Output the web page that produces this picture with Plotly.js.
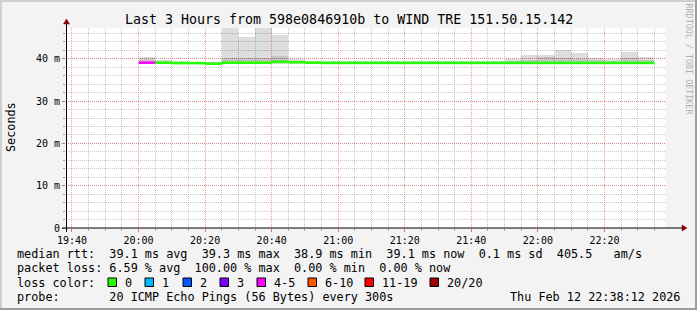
<!DOCTYPE html>
<html><head><meta charset="utf-8">
<script src="https://cdn.plot.ly/plotly-3.0.1.min.js"></script>
<style>html,body{margin:0;padding:0;background:#f3f3f3;} #chart{width:697px;height:310px;}</style>
</head><body><div id="chart"></div>
<script>
// ---- data ----
const intervalStart = ['2026-02-12 20:00:00','2026-02-12 20:05:00','2026-02-12 20:10:00','2026-02-12 20:15:00','2026-02-12 20:20:00','2026-02-12 20:25:00','2026-02-12 20:30:00','2026-02-12 20:35:00','2026-02-12 20:40:00','2026-02-12 20:45:00','2026-02-12 20:50:00','2026-02-12 20:55:00','2026-02-12 21:00:00','2026-02-12 21:05:00','2026-02-12 21:10:00','2026-02-12 21:15:00','2026-02-12 21:20:00','2026-02-12 21:25:00','2026-02-12 21:30:00','2026-02-12 21:35:00','2026-02-12 21:40:00','2026-02-12 21:45:00','2026-02-12 21:50:00','2026-02-12 21:55:00','2026-02-12 22:00:00','2026-02-12 22:05:00','2026-02-12 22:10:00','2026-02-12 22:15:00','2026-02-12 22:20:00','2026-02-12 22:25:00','2026-02-12 22:30:00'];
const medianMs = [39.1,39.1,39.0,39.0,38.85,39.1,39.1,39.1,39.3,39.2,39.1,39.05,39.05,39.05,39.05,39.05,39.05,39.05,39.05,39.05,39.05,39.05,39.05,39.05,39.05,39.05,39.05,39.05,39.05,39.05,39.05];
const smokeMin = [38.8,38.8,38.8,38.8,38.6,38.8,38.8,38.8,38.9,38.8,38.8,38.8,38.8,38.8,38.8,38.8,38.8,38.8,38.8,38.8,38.8,38.8,38.8,38.8,38.8,38.8,38.8,38.8,38.8,38.8,38.8];
const smokeMax = [40.4,39.7,39.4,39.3,39.3,48.0,45.1,48.0,45.7,40.0,39.5,39.4,39.4,39.4,39.4,39.4,39.4,39.4,39.4,39.4,39.4,39.5,40.0,41.0,41.0,42.0,41.5,40.3,40.0,41.6,40.4];
const coreMin = [39.0,39.0,38.9,38.9,38.8,39.0,39.0,39.0,39.1,39.0,39.0,38.9,38.9,38.9,38.9,38.9,38.9,38.9,38.9,38.9,38.9,38.9,38.9,38.9,38.9,38.9,38.9,38.9,38.9,38.9,38.9];
const coreMax = [39.9,39.4,39.3,39.2,39.2,40.3,40.2,40.3,40.6,39.6,39.3,39.3,39.3,39.3,39.3,39.3,39.3,39.3,39.3,39.3,39.3,39.3,39.5,39.7,40.5,40.2,40.0,39.8,39.6,40.2,39.8];
const lossPings = [5,0,0,0,0,0,0,0,0,0,0,0,0,0,0,0,0,0,0,0,0,0,0,0,0,0,0,0,0,0,0];
const yTickVals = [0,10,20,30,40];
const yTickText = ['0','10 m','20 m','30 m','40 m'];
const lossLabels = ['0','1','2','3','4-5','6-10','11-19','20/20'];
const lossColors = ['#26ff00','#00b8ff','#0059ff','#7e00ff','#ff00ff','#ff5500','#ff0000','#a10000'];
const lossUpper = [0,1,2,3,5,10,19,20];
const legendRtt = 'median rtt:  39.1 ms avg  39.3 ms max  38.9 ms min  39.1 ms now  0.1 ms sd  405.5   am/s';
const legendLoss = 'packet loss: 6.59 % avg  100.00 % max  0.00 % min  0.00 % now';
const legendProbe = 'probe:       20 ICMP Echo Pings (56 Bytes) every 300s';
const stamp = 'Thu Feb 12 22:38:12 2026';
const titleText = 'Last 3 Hours from 598e0846910b to WIND TRE 151.50.15.142';

// ---- geometry helpers ----
const W = 697, H = 310, L = 66, R = 665, T = 28, B = 228;
const px = x => (x - L) / (R - L);
const py = y => (B - y) / (B - T);
const nb = s => s.replace(/ /g, '\u00a0');
const MONO = 'DejaVu Sans Mono, monospace';
const toMs = s => Date.parse(s.replace(' ', 'T') + 'Z');
const STEP = 300000;

const traces = [];
// outer smoke
traces.push({type:'bar', x:intervalStart, base:smokeMin, y:smokeMax.map((v,i)=>v-smokeMin[i]),
  width:STEP, offset:0, marker:{color:'rgba(0,0,0,0.135)', line:{width:0}}, hoverinfo:'skip', showlegend:false});
// inner smoke
traces.push({type:'bar', x:intervalStart, base:coreMin, y:coreMax.map((v,i)=>v-coreMin[i]),
  width:STEP, offset:0, marker:{color:'rgba(0,0,0,0.10)', line:{width:0}}, hoverinfo:'skip', showlegend:false});
// median line, coloured by loss
function lossIdx(n){ for(let k=0;k<lossUpper.length;k++){ if(n<=lossUpper[k]) return k; } return lossUpper.length-1; }
lossColors.forEach((col,k)=>{
  const xs=[], ys=[];
  intervalStart.forEach((s,i)=>{
    if(lossIdx(lossPings[i])===k){ const t=toMs(s); xs.push(t,t+STEP,null); ys.push(medianMs[i],medianMs[i],null); }
  });
  if(xs.length) traces.push({type:'scatter', mode:'lines', x:xs, y:ys, line:{color:col,width:2.6}, connectgaps:false, hoverinfo:'skip', showlegend:false});
});

const shapes = [];
const rectPx = (x0,y0,x1,y1,fill,lineCol,lw) => ({type:'rect', xref:'paper', yref:'paper', x0:px(x0), x1:px(x1), y0:py(y1), y1:py(y0), fillcolor:fill, line:{color:lineCol||fill, width:lw||0}, layer:'above'});
const linePx = (x0,y0,x1,y1,col,w) => ({type:'line', xref:'paper', yref:'paper', x0:px(x0), x1:px(x1), y0:py(y0), y1:py(y1), line:{color:col,width:w}, layer:'above'});
// frame
shapes.push(rectPx(0,0,W,2,'#cfcfcf'));
shapes.push(rectPx(0,0,2,H,'#cfcfcf'));
shapes.push(rectPx(W-2,0,W,H,'#9e9e9e'));
shapes.push(rectPx(0,H-2,W,H,'#9e9e9e'));
// axes with arrows
shapes.push(linePx(62,228,683,228,'#000000',1));
shapes.push(linePx(66.5,232,66.5,23,'#000000',1));
const tri = pts => ({type:'path', xref:'paper', yref:'paper', path:'M'+pts.map(p=>px(p[0])+','+py(p[1])).join(' L')+' Z', fillcolor:'#8b0000', line:{color:'#8b0000',width:0.5}, layer:'above'});
shapes.push(tri([[687,228],[682,225],[682,231]]));
shapes.push(tri([[66.5,19],[63.5,24],[69.5,24]]));
// loss colour boxes
const boxX = [108,145,183,220,257,308,365,430];
const annotations = [];
lossColors.forEach((c,k)=>{
  shapes.push(rectPx(boxX[k],278,boxX[k]+8.5,286.5,c,'#000000',1));
  annotations.push({text:nb(lossLabels[k]), x:px(boxX[k]+14.5), y:py(282.5), xref:'paper', yref:'paper', showarrow:false, xanchor:'left', yanchor:'middle', font:{family:MONO,size:11.8,color:'#000'}});
});
const txt = (t,x,y,size,opts) => Object.assign({text:nb(t), x:px(x), y:py(y), xref:'paper', yref:'paper', showarrow:false, xanchor:'left', yanchor:'middle', font:{family:MONO,size:size,color:'#000'}}, opts||{});
annotations.push(txt(titleText,349,19,13.3,{xanchor:'center'}));
annotations.push(txt(legendRtt,14.5,254,11.8));
annotations.push(txt(legendLoss,14.5,268,11.8));
annotations.push(txt('loss color:',14.5,282.5,11.8));
annotations.push(txt(legendProbe,14.5,297,11.8));
annotations.push(txt(stamp,682,297,11.8,{xanchor:'right'}));
annotations.push(txt('Seconds',11,127,11.8,{xanchor:'center',textangle:-90}));
annotations.push(txt('RRDTOOL / TOBI OETIKER',688.5,59,8.4,{xanchor:'center',textangle:90,font:{family:MONO,size:8.4,color:'#b0b0b0'}}));

const layout = {
  width:W, height:H, margin:{l:L, r:W-R, t:T, b:H-B, pad:0},
  paper_bgcolor:'#f3f3f3', plot_bgcolor:'#ffffff',
  font:{family:MONO, size:10, color:'#000'},
  barmode:'overlay', bargap:0, showlegend:false,
  xaxis:{type:'date', range:['2026-02-12 19:38:12','2026-02-12 22:38:12'], tick0:'2026-02-12 19:40:00', dtick:1200000,
    tickformat:'%H:%M', showgrid:true, gridcolor:'rgba(222,80,80,0.55)', griddash:'1px,1px', gridwidth:1,
    ticks:'outside', ticklen:3, tickcolor:'rgba(222,80,80,0.8)', showline:false, zeroline:false,
    tickfont:{family:MONO,size:10,color:'#000'}, fixedrange:true,
    minor:{dtick:300000, tick0:'2026-02-12 19:40:00', showgrid:true, gridcolor:'rgba(143,143,143,0.5)', griddash:'1px,1px', ticks:'outside', ticklen:2, tickcolor:'rgba(143,143,143,0.8)'}},
  yaxis:{range:[0,47.3], tickmode:'array', tickvals:yTickVals, ticktext:yTickText, showgrid:true,
    gridcolor:'rgba(222,80,80,0.55)', griddash:'1px,1px', ticks:'outside', ticklen:3, tickcolor:'rgba(222,80,80,0.8)',
    showline:false, zeroline:false, tickfont:{family:MONO,size:10,color:'#000'}, fixedrange:true,
    minor:{dtick:2, tick0:0, showgrid:true, gridcolor:'rgba(143,143,143,0.5)', griddash:'1px,1px', ticks:'outside', ticklen:2, tickcolor:'rgba(143,143,143,0.8)'}},
  shapes:shapes, annotations:annotations
};
Plotly.newPlot('chart', traces, layout, {staticPlot:true, displayModeBar:false});
</script></body></html>
